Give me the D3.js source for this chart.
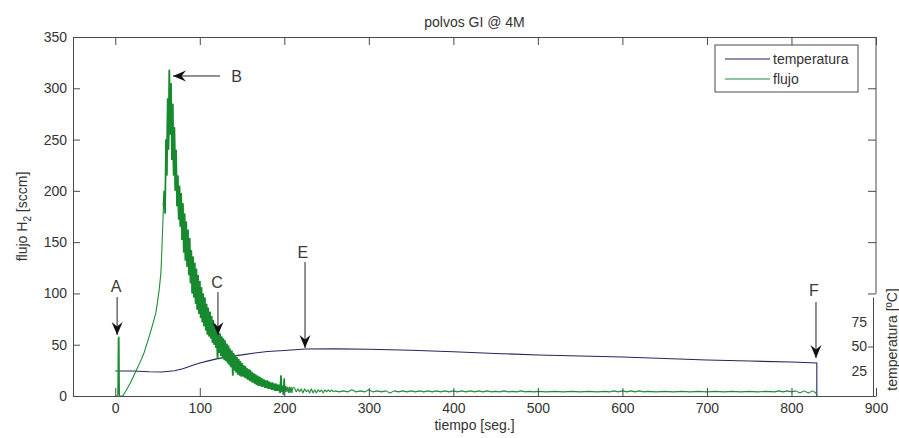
<!DOCTYPE html>
<html>
<head>
<meta charset="utf-8">
<script src="https://cdn.jsdelivr.net/npm/d3@7"></script>
<style>
body { margin: 0; background: #fff; }
text { font-family: "Liberation Sans", Arial, sans-serif; }
</style>
</head>
<body>
<div id="chartContainer"></div>
<script>
// Data
// temperatura [ºC] vs tiempo [seg.]
let tiempo_temp = [0, 20, 40, 55, 70, 80, 90, 100, 110, 120, 130, 140, 150, 165, 180, 200, 225, 260,
                   300, 350, 400, 450, 500, 550, 600, 650, 700, 750, 800, 830, 830];
let temperatura = [25.3, 25.3, 24.5, 24.2, 25.5, 27.5, 30.5, 33.3, 35.5, 37.5, 39, 40.5, 41.5, 43.5, 45, 46, 47.4, 47.6,
                   47.2, 46.2, 44.7, 43, 41.4, 40.4, 39.4, 37.9, 36.4, 35.3, 34.3, 33.3, 0];

// flujo H2 [sccm] as [tiempo, flujo] pairs (noisy signal)
let flujo_data = [
    [0,0],[3,0],[3.5,57],[4,1],[4.5,58],[5,0],[9,0],[11,3],[14,7],[18,13],[22,20],[26,27],[30,34],[34,42],
    [39,55],[43,66],[46,75],[48,81],[50,92],[52,104],[54,120],[55,140],[56,162],
    [57,185],[58,200],[59,178],[60,250],[61,215],[62,290],[63,240],[64,318],[65,255],[66,305],
    [67,230],[68,285],[69,215],[70,262],[71,200],[72,240],[73,185],[74,215],[75,172],
    [76,205],[77,165],[78,198],[79,152],[80,188],[81,140],[82,178],[83,132],[84,170],[85,126],
    [86,162],[87,118],[88,154],[89,110],[90,142],[91,100],[92,136],[93,96],[94,130],[95,90],
    [96,124],[97,84],[98,118],[99,80],[100,112],[101,76],[102,106],[103,72],[104,100],[105,68],
    [106,96],[107,64],[108,90],[109,60],[110,86],[111,58],[112,82],[113,56],[114,78],[115,52],
    [116,74],[117,50],[118,70],[119,47],[120,68],[121,36],[122,64],[123,42],[124,61],[125,39],
    [126,58],[127,37],[128,56],[129,35],[130,54],[131,34],[132,51],[133,32],[134,49],[135,30],
    [136,46],[137,28],[138,44],[139,20],[140,42],[141,25],[142,40],[143,23],[144,38],[145,21],
    [146,36],[147,20],[148,34],[149,19],[150,32],[151,19],[152,30],[153,18],[154,29],[155,17],
    [156,27],[157,16],[158,26],[159,15],[160,25],[161,14],[162,23],[163,13],[164,22],[165,12],
    [166,21],[167,11],[168,20],[169,10],[170,19],[171,10],[172,18],[173,9],[174,17],[175,9],
    [176,16],[177,8],[178,15],[179,8],[180,15],[181,7],[182,14],[183,7],[184,13],[185,6],
    [186,13],[187,6],[188,12],[189,5],[190,12],[191,5],[192,11],[193,5],[194,11],[195,3],
    [196,20],[197,4],[198,10],[199,1],[200,17],[201,4],[202,10],[203,4],[204,9],[205,3],
    [206,9],[207,3],[208,9],[209,3],[210,8],
    [212,8],[214,4],[216,7],[218,4],[220,7],[222,3],[224,7],[226,4],[228,6],[230,3],
    [232,7],[234,3],[236,6],[238,3],[240,6],[242,4],[244,6],[246,3],[248,6],[250,4],
    [252,6],[254,4],[256,6],[258,4],[260,5],
    [265,4],[270,5],[275,4],[280,6],[285,4],[290,5],[295,4],[300,6],[305,4],[310,5],
    [315,4],[320,5],[325,3],[330,5],[335,4],[340,5],[345,4],[350,5],[355,4],[360,5],
    [365,4],[370,5],[375,4],[380,5],[385,4],[390,5],[395,4],[400,5],[405,4],[410,5],
    [415,4],[420,5],[425,4],[430,5],[435,4],[440,5],[445,4],[450,4.5],[455,4],[460,5],
    [465,4],[470,4.5],[475,4],[480,5],[485,4],[490,4.5],[495,4],[500,4.5],[510,4],[520,4.5],
    [530,4],[540,4.5],[550,4],[560,4.5],[570,4],[580,4.5],[585,4],[590,5],[595,4],[600,5],
    [605,4],[610,5],[615,4],[620,5],[625,4],[630,4.5],[640,4],[650,4.5],[660,4],[670,4.5],
    [680,4],[690,4.5],[700,4],[710,4.5],[720,4],[730,4.5],[740,4],[750,4.5],[760,4],[770,4.5],
    [780,4],[785,5],[790,4],[795,5],[800,4],[805,5],[810,3],[815,5],[820,3],[825,5],
    [829,3],[830,0]
];

// axis ticks
let x_ticks = [0, 100, 200, 300, 400, 500, 600, 700, 800, 900];
let y_ticks = [0, 50, 100, 150, 200, 250, 300, 350];
let temp_ticks = [25, 50, 75];

// legend
let series_names = ["temperatura", "flujo"];
let series_colors = ["#26265e", "#1f8c36"];

// annotation letters: text position and arrow (from -> tip), in data units
let annot_labels = ["A", "B", "C", "E", "F"];
let annot_text_t = [1, 143.4, 120.3, 222, 826.6];
let annot_text_f = [107, 312, 111, 140, 103.3];
let annot_from_t = [2.2, 123.9, 121.5, 224.5, 829];
let annot_from_f = [96.5, 312, 101.4, 130.6, 91.6];
let annot_to_t = [2.2, 68.3, 121.5, 224.5, 829];
let annot_to_f = [59.5, 312, 59.5, 46.8, 37];

// chart properties
let BOX_WIDTH = 899;
let BOX_HEIGHT = 438;
let LEFT = 73;
let RIGHT = 876;
let TOP = 37;
let BOTTOM = 396;
let AXIS_COLOR = "#4a4a4a";
let TEXT_COLOR = "#333";

const svg = d3.select("#chartContainer")
    .append("svg")
    .attr("width", BOX_WIDTH)
    .attr("height", BOX_HEIGHT)
    .style("background", "#fff");

const xScale = d3.scaleLinear()
    .domain([-50, 900])
    .range([LEFT, RIGHT]);

const yScale = d3.scaleLinear()
    .domain([0, 350])
    .range([BOTTOM, TOP]);

const yScaleTemp = d3.scaleLinear()
    .domain([0, 100])
    .range([BOTTOM, 297]);

svg.append("defs").append("clipPath")
    .attr("id", "plot_clip")
    .append("rect")
    .attr("x", LEFT)
    .attr("y", TOP)
    .attr("width", RIGHT - LEFT)
    .attr("height", BOTTOM - TOP);

svg.select("defs").append("marker")
    .attr("id", "arrow_head")
    .attr("viewBox", "-14 -6 15 12")
    .attr("refX", 0)
    .attr("refY", 0)
    .attr("markerUnits", "userSpaceOnUse")
    .attr("markerWidth", 15)
    .attr("markerHeight", 12)
    .attr("orient", "auto")
    .append("path")
    .attr("d", "M0,0 L-13,-5.5 L-8.5,0 L-13,5.5 Z")
    .attr("fill", "#111");

// lines
const temp_line = d3.line()
    .x((d, i) => xScale(tiempo_temp[i]))
    .y(d => yScaleTemp(d));

const flujo_line = d3.line()
    .x(d => xScale(d[0]))
    .y(d => yScale(d[1]));

const plot = svg.append("g").attr("clip-path", "url(#plot_clip)");

plot.append("path")
    .datum(temperatura)
    .attr("class", "temp_line")
    .attr("fill", "none")
    .attr("stroke", series_colors[0])
    .attr("stroke-width", 1.1)
    .attr("d", temp_line);

plot.append("path")
    .datum(flujo_data)
    .attr("class", "flujo_line")
    .attr("fill", "none")
    .attr("stroke", series_colors[1])
    .attr("stroke-width", 1.1)
    .attr("stroke-linejoin", "bevel")
    .attr("d", flujo_line);

// the noisy part of the signal reads as a dense, darker band
plot.append("path")
    .datum(flujo_data.filter(d => d[0] >= 57 && d[0] <= 200))
    .attr("class", "flujo_band")
    .attr("fill", "none")
    .attr("stroke", "#178a30")
    .attr("stroke-width", 1.7)
    .attr("stroke-linejoin", "bevel")
    .attr("d", flujo_line);

// axes
function styleAxis(g) {
    g.selectAll("path, line").attr("stroke", AXIS_COLOR);
    g.selectAll("text")
        .attr("fill", TEXT_COLOR)
        .style("font-size", "14px")
        .style("font-family", "'Liberation Sans', Arial, sans-serif");
}

svg.append("g")
    .attr("transform", `translate(0, ${BOTTOM})`)
    .call(d3.axisBottom(xScale).tickValues(x_ticks).tickSize(-8).tickSizeOuter(0).tickPadding(7))
    .call(styleAxis);

svg.append("g")
    .attr("transform", `translate(0, ${TOP})`)
    .call(d3.axisTop(xScale).tickValues(x_ticks).tickSize(-8).tickSizeOuter(0).tickFormat(""))
    .call(styleAxis);

svg.append("g")
    .attr("transform", `translate(${LEFT}, 0)`)
    .call(d3.axisLeft(yScale).tickValues(y_ticks).tickSize(-7).tickSizeOuter(0).tickPadding(6))
    .call(styleAxis);

// right frame (only above the temperature axis)
const rightFrame = svg.append("g")
    .attr("transform", `translate(${RIGHT}, 0)`)
    .call(d3.axisRight(yScale).tickValues(y_ticks.filter(v => v >= 100)).tickSize(-8).tickSizeOuter(0).tickFormat(""))
    .call(styleAxis);
rightFrame.select(".domain").remove();
rightFrame.append("line")
    .attr("y1", yScale(350))
    .attr("y2", yScale(100))
    .attr("stroke", AXIS_COLOR);

// temperature axis
const tempAxis = svg.append("g")
    .attr("transform", `translate(${RIGHT - 3}, 0)`)
    .call(d3.axisLeft(yScaleTemp).tickValues(temp_ticks).tickSize(5).tickSizeOuter(0).tickPadding(1))
    .call(styleAxis);
tempAxis.selectAll(".tick line").attr("stroke", d => d === 50 ? AXIS_COLOR : "none");

// titles
svg.append("text")
    .attr("x", (LEFT + RIGHT) / 2)
    .attr("y", 27)
    .attr("text-anchor", "middle")
    .attr("fill", TEXT_COLOR)
    .style("font-size", "14px")
    .text("polvos GI @ 4M");

svg.append("text")
    .attr("x", (LEFT + RIGHT) / 2)
    .attr("y", 430)
    .attr("text-anchor", "middle")
    .attr("fill", TEXT_COLOR)
    .style("font-size", "14px")
    .text("tiempo [seg.]");

const ylab = svg.append("text")
    .attr("transform", `translate(27, ${(TOP + BOTTOM) / 2}) rotate(-90)`)
    .attr("text-anchor", "middle")
    .attr("fill", TEXT_COLOR)
    .style("font-size", "14px");
ylab.append("tspan").text("flujo H");
ylab.append("tspan").attr("dy", 4).style("font-size", "10px").text("2");
ylab.append("tspan").attr("dy", -4).text(" [sccm]");

svg.append("text")
    .attr("transform", `translate(897, ${(yScaleTemp(0) + 283) / 2}) rotate(-90)`)
    .attr("text-anchor", "middle")
    .attr("fill", TEXT_COLOR)
    .style("font-size", "14px")
    .text("temperatura [ºC]");

// annotations
annot_labels.forEach((lab, i) => {
    svg.append("line")
        .attr("x1", xScale(annot_from_t[i]))
        .attr("y1", yScale(annot_from_f[i]))
        .attr("x2", xScale(annot_to_t[i]))
        .attr("y2", yScale(annot_to_f[i]))
        .attr("stroke", "#222")
        .attr("stroke-width", 1)
        .attr("marker-end", "url(#arrow_head)");

    svg.append("text")
        .attr("x", xScale(annot_text_t[i]))
        .attr("y", yScale(annot_text_f[i]))
        .attr("dy", "0.36em")
        .attr("text-anchor", "middle")
        .attr("fill", "#3a3a3a")
        .style("font-size", "16px")
        .text(lab);
});

// legend
const legend = svg.append("g");
legend.append("rect")
    .attr("x", 715)
    .attr("y", 45)
    .attr("width", 143)
    .attr("height", 47)
    .attr("fill", "#fff")
    .attr("stroke", AXIS_COLOR);

series_names.forEach((name, i) => {
    const ly = 59 + i * 20;
    legend.append("line")
        .attr("x1", 725)
        .attr("x2", 770)
        .attr("y1", ly)
        .attr("y2", ly)
        .attr("stroke", series_colors[i])
        .attr("stroke-width", 1.1);
    legend.append("text")
        .attr("x", 773)
        .attr("y", ly)
        .attr("dy", "0.35em")
        .attr("fill", TEXT_COLOR)
        .style("font-size", "14px")
        .text(name);
});
</script>
</body>
</html>
